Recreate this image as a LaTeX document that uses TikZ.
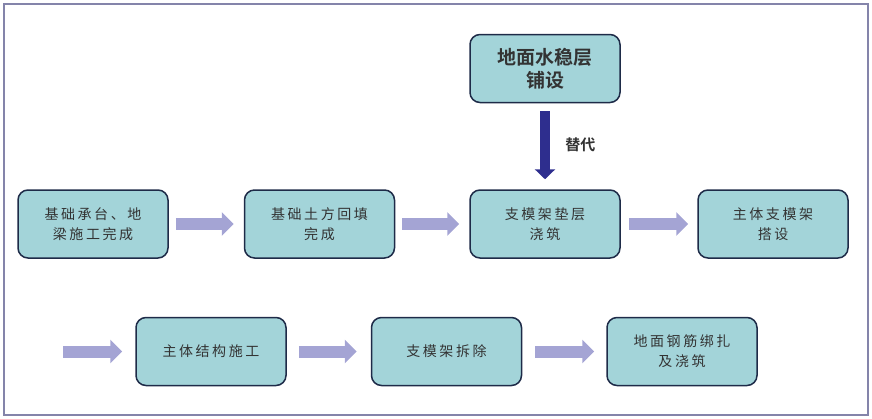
\documentclass[tikz,border=0pt]{standalone}
\usepackage{fontspec}
\newfontfamily\cjk[LetterSpace=18]{Noto Sans CJK SC}
\newfontfamily\cjkb{Noto Sans CJK SC Bold}
\usetikzlibrary{arrows.meta}
\definecolor{boxfill}{HTML}{A3D4D9}
\definecolor{boxdraw}{HTML}{1E2B48}
\definecolor{lav}{HTML}{A4A4D4}
\definecolor{navy}{HTML}{2E2E8E}
\definecolor{framec}{HTML}{8484AA}
\definecolor{txt}{HTML}{333333}
\begin{document}
\begin{tikzpicture}[x=1pt,y=-1pt,
  stepbox/.style={draw=boxdraw,fill=boxfill,line width=1.5pt,rounded corners=10pt,
    minimum width=150pt,minimum height=68pt,align=center,text=txt,
    font=\fontsize{14pt}{20pt}\selectfont\cjk},
  topbox/.style={stepbox,font=\fontsize{19pt}{23pt}\selectfont\cjkb},
  fatarrow/.style={draw=lav,line width=12pt,-{Triangle[length=12pt,width=23pt,fill=lav]}},
  downarrow/.style={draw=navy,line width=10pt,-{Triangle[length=10pt,width=20pt,fill=navy]}}]
\useasboundingbox (0,0) rectangle (872,418);
\draw[framec,line width=2pt] (4,4) rectangle (868,415);
\node[stepbox] (b1) at (93,224) {基础承台、地\\梁施工完成};
\node[stepbox] (b2) at (319.5,224) {基础土方回填\\完成};
\node[stepbox] (b3) at (545,224) {支模架垫层\\浇筑};
\node[stepbox] (b4) at (773,224) {主体支模架\\搭设};
\node[topbox] (top) at (545,68.5) {地面水稳层\\铺设};
\node[stepbox] (b5) at (211,351.5) {主体结构施工};
\node[stepbox] (b6) at (446.5,351.5) {支模架拆除};
\node[stepbox] (b7) at (682,351.5) {地面钢筋绑扎\\及浇筑};
\coordinate (s5) at (63,351.5);
\draw[fatarrow] ([xshift=7pt]b1.east) -- ([xshift=-10pt]b2.west);
\draw[fatarrow] ([xshift=7pt]b2.east) -- ([xshift=-10pt]b3.west);
\draw[fatarrow] ([xshift=8pt]b3.east) -- ([xshift=-9pt]b4.west);
\draw[fatarrow] (s5) -- ([xshift=-13pt]b5.west);
\draw[fatarrow] ([xshift=12pt]b5.east) -- ([xshift=-14pt]b6.west);
\draw[fatarrow] ([xshift=13pt]b6.east) -- ([xshift=-12pt]b7.west);
\draw[downarrow] ([yshift=-8pt]top.south) -- node[right=12pt,text=txt,font=\fontsize{15pt}{18pt}\selectfont\cjkb]{替代} ([yshift=10pt]b3.north);
\end{tikzpicture}
\end{document}
